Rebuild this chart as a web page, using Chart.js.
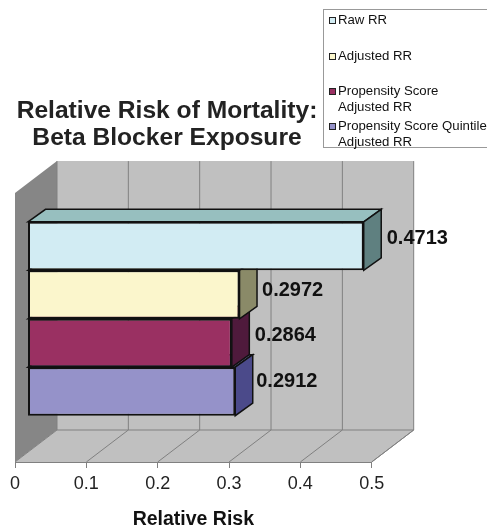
<!DOCTYPE html>
<html>
<head>
<meta charset="utf-8">
<title>Relative Risk of Mortality</title>
<script src="https://cdn.jsdelivr.net/npm/chart.js@4/dist/chart.umd.min.js"></script>
<style>
  body { margin: 0; background: #fff; font-family: "Liberation Sans", Arial, sans-serif; overflow: hidden; }
  #wrap { position: relative; width: 487px; height: 529px; overflow: hidden; }
  #legend { position: absolute; left: 323px; top: 9px; width: 170px; height: 139px; border: 1px solid #999; box-sizing: border-box; font-size: 13.2px; color: #111; white-space: nowrap; }
  #legend div { position: absolute; left: 14px; line-height: 16px; }
  #legend i { position: absolute; left: -9px; top: 5px; width: 5px; height: 5px; border: 1px solid #222; }
</style>
</head>
<body>
<div id="wrap">
  <canvas id="riskChart" width="487" height="529"></canvas>
  <div id="legend"></div>
</div>
<script>
const categories = ['Beta Blocker Exposure'];
const seriesNames = ['Raw RR', 'Adjusted RR', 'Propensity Score|Adjusted RR', 'Propensity Score Quintile|Adjusted RR'];
const seriesValues = [0.4713, 0.2972, 0.2864, 0.2912];
const frontColors = ['#d2ecf3', '#fbf6cc', '#9a3062', '#9592c9'];
const topColors = ['#97bfbf', '#c4c19c', '#7a2850', '#74729f'];
const sideColors = ['#5f8080', '#8a8a68', '#4f1a3c', '#4b4a8a'];
const legendTops = [2, 38, 73, 108];

// 3d offsets
const wallDepth = { x: 42, y: -32 };
const barShift = { x: 12.5, y: -8.8 };
const barDepth = { x: 17.5, y: -12.5 };
const labelFont = 'bold 20px "Liberation Sans", Arial, sans-serif';
const labelGapX = [23, 22.5, 23, 21];
const labelLift = [8, 4, 7.5, 10];

function poly(ctx, pts, fill, stroke, lineWidth) {
  ctx.beginPath();
  pts.forEach((p, i) => i ? ctx.lineTo(p[0], p[1]) : ctx.moveTo(p[0], p[1]));
  ctx.closePath();
  ctx.fillStyle = fill;
  ctx.fill();
  if (stroke) {
    ctx.strokeStyle = stroke;
    ctx.lineWidth = lineWidth || 1;
    ctx.stroke();
  }
}

const walls = {
  id: 'walls',
  beforeDraw(chart) {
    const { ctx, chartArea: a, scales: { x } } = chart;
    const dx = wallDepth.x, dy = wallDepth.y;
    ctx.save();
    poly(ctx, [[a.left + dx, a.top + dy], [a.right + dx, a.top + dy], [a.right + dx, a.bottom + dy], [a.left + dx, a.bottom + dy]], '#c0c0c0');
    poly(ctx, [[a.left, a.top], [a.left + dx, a.top + dy], [a.left + dx, a.bottom + dy], [a.left, a.bottom]], '#868686');
    poly(ctx, [[a.left, a.bottom], [a.left + dx, a.bottom + dy], [a.right + dx, a.bottom + dy], [a.right, a.bottom]], '#c0c0c0');
    ctx.strokeStyle = '#808080';
    ctx.lineWidth = 1;
    ctx.beginPath();
    x.ticks.forEach(t => {
      const px = x.getPixelForValue(t.value);
      ctx.moveTo(px, a.bottom);
      ctx.lineTo(px + dx, a.bottom + dy);
      ctx.lineTo(px + dx, a.top + dy);
    });
    ctx.moveTo(a.left + dx, a.bottom + dy);
    ctx.lineTo(a.right + dx, a.bottom + dy);
    ctx.moveTo(a.right, a.bottom);
    ctx.lineTo(a.right + dx, a.bottom + dy);
    ctx.stroke();
    ctx.restore();
  }
};

// Chart.js draws the last dataset first, which is the stacking order the bars need
const bars3d = {
  id: 'bars3d',
  beforeDatasetsDraw(chart) {
    chart.ctx.save();
    chart.ctx.translate(barShift.x, barShift.y);
  },
  beforeDatasetDraw(chart, args) {
    const { ctx } = chart;
    const i = args.index;
    const el = args.meta.data[0];
    const top = el.y - el.height / 2, bot = el.y + el.height / 2;
    const dx = barDepth.x, dy = barDepth.y;
    poly(ctx, [[el.base, top], [el.base + dx, top + dy], [el.x + dx, top + dy], [el.x, top]], topColors[i], '#111', 1.5);
    poly(ctx, [[el.x, top], [el.x + dx, top + dy], [el.x + dx, bot + dy], [el.x, bot]], sideColors[i], '#111', 1.5);
  },
  afterDatasetsDraw(chart) {
    const { ctx } = chart;
    ctx.restore();
    ctx.save();
    ctx.font = labelFont;
    ctx.fillStyle = '#111';
    ctx.textBaseline = 'middle';
    chart.data.datasets.forEach((ds, i) => {
      const el = chart.getDatasetMeta(i).data[0];
      ctx.fillText(ds.data[0].toFixed(4), el.x + barShift.x + labelGapX[i], el.y + barShift.y - labelLift[i]);
    });
    ctx.restore();
  }
};

// the title sits left of the legend, not across the whole canvas
const titleSpot = {
  id: 'titleSpot',
  afterLayout(chart) {
    chart.titleBlock.left = 0;
    chart.titleBlock.right = 334;
  }
};

new Chart(document.getElementById('riskChart'), {
  type: 'bar',
  data: {
    labels: categories,
    datasets: seriesNames.map((name, i) => ({
      label: name.replace('|', ' '),
      data: [seriesValues[i]],
      backgroundColor: frontColors[i],
      borderColor: '#111',
      borderWidth: 2,
      borderSkipped: false,
      barPercentage: 1,
      categoryPercentage: 0.721,
      clip: false
    }))
  },
  options: {
    indexAxis: 'y',
    responsive: false,
    animation: false,
    layout: { padding: { left: 15, right: 115.3, top: 0, bottom: 0 } },
    plugins: {
      legend: { display: false },
      tooltip: { enabled: false },
      title: {
        display: true,
        text: ['Relative Risk of Mortality:', 'Beta Blocker Exposure'],
        color: '#222',
        font: { family: '"Liberation Sans", Arial, sans-serif', size: 24.6, weight: 'bold', lineHeight: 1.1 },
        padding: { top: 97.5, bottom: 41.5 }
      }
    },
    scales: {
      x: {
        min: 0,
        max: 0.5,
        ticks: { stepSize: 0.1, color: '#222', padding: 5, maxRotation: 0, font: { family: '"Liberation Sans", Arial, sans-serif', size: 18 } },
        grid: { drawOnChartArea: false, color: '#808080', tickLength: 6 },
        border: { color: '#808080' },
        title: {
          display: true,
          text: 'Relative Risk',
          color: '#111',
          font: { family: '"Liberation Sans", Arial, sans-serif', size: 19.5, weight: 'bold', lineHeight: 1 },
          padding: { top: 9.9, bottom: 0 }
        }
      },
      y: { display: false }
    }
  },
  plugins: [walls, bars3d, titleSpot]
});

const legendBox = document.getElementById('legend');
seriesNames.forEach((name, i) => {
  const item = document.createElement('div');
  item.style.top = legendTops[i] + 'px';
  item.innerHTML = `<i style="background:${frontColors[i]}"></i>` + name.replace('|', '<br>');
  legendBox.appendChild(item);
});
</script>
</body>
</html>
